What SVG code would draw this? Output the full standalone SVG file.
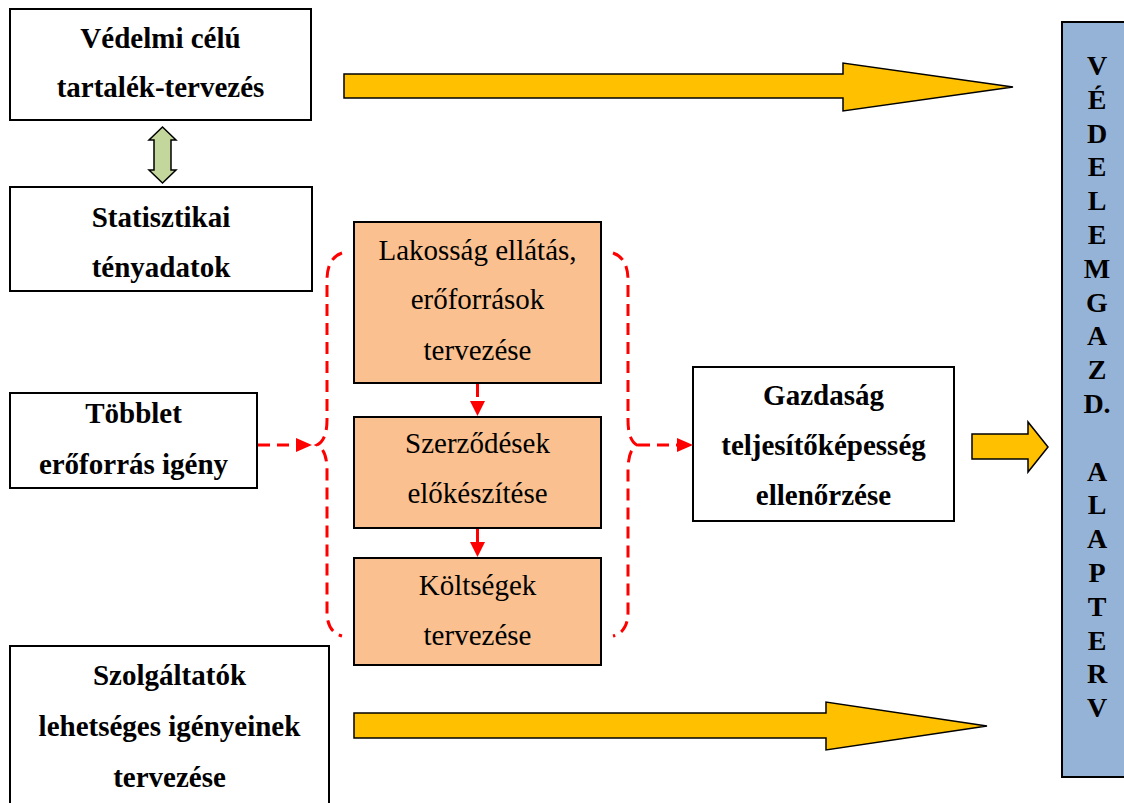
<svg xmlns="http://www.w3.org/2000/svg" width="1124" height="803" viewBox="0 0 1124 803">
  <style>
    .box { fill: #ffffff; stroke: #000000; stroke-width: 2; }
    .task { fill: #FAC090; stroke: #000000; stroke-width: 2; }
    .plan { fill: #95B3D7; stroke: #000000; stroke-width: 2; }
    .bold { font-family: "Liberation Serif", "Times New Roman", serif; font-size: 29px; font-weight: bold; text-anchor: middle; fill: #000000; }
    .reg { font-family: "Liberation Serif", "Times New Roman", serif; font-size: 29px; text-anchor: middle; fill: #000000; }
    .vert { font-family: "Liberation Serif", "Times New Roman", serif; font-size: 28px; font-weight: bold; text-anchor: middle; fill: #000000; }
    .dash { fill: none; stroke: #FF0000; stroke-width: 3; stroke-dasharray: 12 7; }
    .head { fill: #FF0000; }
    .block { fill: #FFC000; stroke: #000000; stroke-width: 1.5; stroke-linejoin: miter; }
    .dbl { fill: #C3D69B; stroke: #000000; stroke-width: 1.5; }
  </style>

  <!-- boxes on the left -->
  <g id="vedelmi">
    <rect class="box" x="10" y="9" width="301" height="111"/>
    <text class="bold" x="160.5" y="48">Védelmi célú</text>
    <text class="bold" x="160.5" y="97">tartalék-tervezés</text>
  </g>
  <g id="statisztikai">
    <rect class="box" x="10" y="187" width="302" height="104"/>
    <text class="bold" x="161" y="227">Statisztikai</text>
    <text class="bold" x="161" y="277">tényadatok</text>
  </g>
  <g id="tobblet">
    <rect class="box" x="10" y="393" width="247" height="95"/>
    <text class="bold" x="133.5" y="423">Többlet</text>
    <text class="bold" x="133.5" y="474">erőforrás igény</text>
  </g>
  <g id="szolgaltatok">
    <rect class="box" x="10" y="646" width="319" height="170"/>
    <text class="bold" x="169.5" y="685">Szolgáltatók</text>
    <text class="bold" x="169.5" y="736">lehetséges igényeinek</text>
    <text class="bold" x="169.5" y="787">tervezése</text>
  </g>

  <!-- planning steps in the middle -->
  <g id="lakossag">
    <rect class="task" x="354" y="222" width="247" height="161"/>
    <text class="reg" x="477.5" y="260">Lakosság ellátás,</text>
    <text class="reg" x="477.5" y="309">erőforrások</text>
    <text class="reg" x="477.5" y="360">tervezése</text>
  </g>
  <g id="szerzodesek">
    <rect class="task" x="354" y="417" width="247" height="111"/>
    <text class="reg" x="477.5" y="453">Szerződések</text>
    <text class="reg" x="477.5" y="503">előkészítése</text>
  </g>
  <g id="koltsegek">
    <rect class="task" x="354" y="558" width="247" height="107"/>
    <text class="reg" x="477.5" y="595">Költségek</text>
    <text class="reg" x="477.5" y="645">tervezése</text>
  </g>

  <g id="gazdasag">
    <rect class="box" x="693" y="367" width="261" height="154"/>
    <text class="bold" x="823.5" y="405">Gazdaság</text>
    <text class="bold" x="823.5" y="455">teljesítőképesség</text>
    <text class="bold" x="823.5" y="505">ellenőrzése</text>
  </g>

  <!-- vertical plan column -->
  <g id="alapterv">
    <rect class="plan" x="1062" y="22" width="70" height="755"/>
    <text class="vert" x="1097" y="75">V</text>
    <text class="vert" x="1097" y="108.8">É</text>
    <text class="vert" x="1097" y="142.6">D</text>
    <text class="vert" x="1097" y="176.4">E</text>
    <text class="vert" x="1097" y="210.2">L</text>
    <text class="vert" x="1097" y="244">E</text>
    <text class="vert" x="1097" y="277.8">M</text>
    <text class="vert" x="1097" y="311.6">G</text>
    <text class="vert" x="1097" y="345.4">A</text>
    <text class="vert" x="1097" y="379.2">Z</text>
    <text class="vert" x="1097" y="413">D.</text>
    <text class="vert" x="1097" y="480.6">A</text>
    <text class="vert" x="1097" y="514.4">L</text>
    <text class="vert" x="1097" y="548.2">A</text>
    <text class="vert" x="1097" y="582">P</text>
    <text class="vert" x="1097" y="615.8">T</text>
    <text class="vert" x="1097" y="649.6">E</text>
    <text class="vert" x="1097" y="683.4">R</text>
    <text class="vert" x="1097" y="717.2">V</text>
  </g>

  <!-- connectors -->
  <g id="connectors">
    <!-- two-way link between the top boxes -->
    <polygon class="dbl" points="162.5,127 176,140 171,140 171,170 176,170 162.5,183 149,170 154,170 154,140 149,140"/>

    <!-- block arrows towards the plan -->
    <polygon class="block" points="344,74 843,74 843,63 1013,87 843,111 843,98 344,98"/>
    <polygon class="block" points="354,713 826,713 826,702 987,726 826,750 826,738 354,738"/>
    <polygon class="block" points="972,434 1028,434 1028,422 1048,447 1028,472 1028,459 972,459"/>

    <!-- braces around the planning steps -->
    <path class="dash" d="M 342 253 Q 327 258 327 280 L 327 420 Q 327 440 317 445 Q 327 450 327 470 L 327 612 Q 327 632 342 636"/>
    <path class="dash" d="M 613 253 Q 628 258 628 280 L 628 420 Q 628 440 637 445 Q 628 450 628 470 L 628 612 Q 628 632 613 636"/>

    <!-- dashed flow arrows -->
    <line class="dash" x1="258" y1="445" x2="296" y2="445"/>
    <polygon class="head" points="296,438 312,445 296,452"/>
    <line class="dash" x1="638" y1="445" x2="677" y2="445"/>
    <polygon class="head" points="677,438 693,445 677,452"/>
    <line class="dash" x1="477.5" y1="384" x2="477.5" y2="402" style="stroke-dasharray: 13 6"/>
    <polygon class="head" points="470,401 485,401 477.5,416"/>
    <line class="dash" x1="477.5" y1="529" x2="477.5" y2="543" style="stroke-dasharray: 13 6"/>
    <polygon class="head" points="470,542 485,542 477.5,557"/>
  </g>
</svg>
